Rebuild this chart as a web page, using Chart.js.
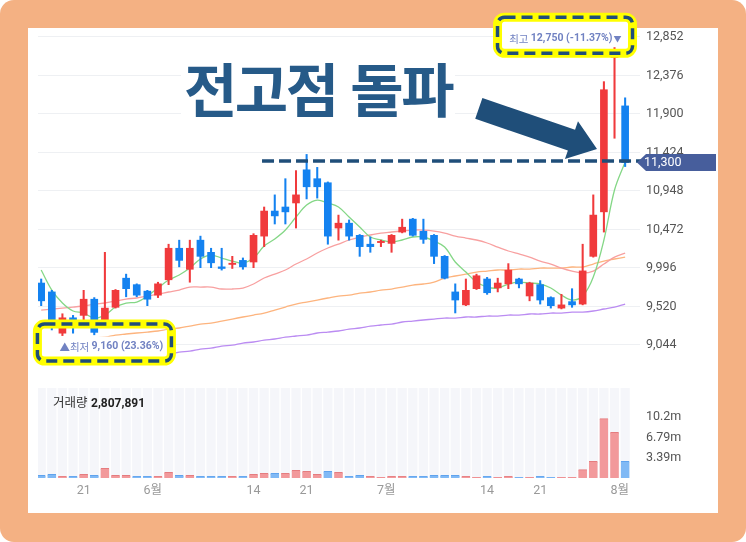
<!DOCTYPE html>
<html lang="ko">
<head>
<meta charset="utf-8">
<title>전고점 돌파</title>
<script src="https://cdn.jsdelivr.net/npm/chart.js@4.4.1/dist/chart.umd.min.js"></script>
<style>
html, body { margin: 0; padding: 0; background: #fff; }
#frame { position: absolute; left: 0; top: 0; width: 746px; height: 542px; background: #f4b183; border-radius: 14px; }
#panel { position: absolute; left: 28px; top: 28px; width: 690px; height: 485px; background: #fff; }
#chart { position: absolute; left: 0; top: 0; }
#title {
    position: absolute; left: 181px; top: 58px; padding: 0 3px;
    font-family: 'Noto Sans CJK KR', sans-serif; font-weight: 700; font-size: 58px;
    line-height: 1; letter-spacing: -2.5px; color: #265a88; background: #fff;
}
#arrow { position: absolute; left: 0; top: 0; pointer-events: none; }
#volLabel {
    position: absolute; left: 53px; top: 392px;
    font-family: 'Noto Sans CJK KR', sans-serif; font-size: 12.5px; color: #333;
}
#volLabel b { font-family: Roboto, sans-serif; font-size: 12px; color: #222; }
</style>
</head>
<body>
<div id="frame"></div>
<div id="panel"></div>
<canvas id="chart" width="746" height="542"></canvas>
<div id="title">전고점 돌파</div>
<svg id="arrow" width="746" height="542">
    <polygon points="0,0 -27,-20 -27,-11 -125,-11 -125,11 -27,11 -27,20"
             fill="#1f4e79" transform="translate(597,149) rotate(19)"/>
</svg>
<div id="volLabel">거래량 <b>2,807,891</b></div>

<script>
// daily candles, 2021-05-14 .. 2021-08-02
const dates = [
    "05-14", "05-17", "05-18", "05-20", "05-21", "05-24", "05-25", "05-26", "05-27", "05-28", "05-31",
    "06-01", "06-02", "06-03", "06-04", "06-07", "06-08", "06-09", "06-10", "06-11", "06-14", "06-15",
    "06-16", "06-17", "06-18", "06-21", "06-22", "06-23", "06-24", "06-25", "06-28", "06-29", "06-30",
    "07-01", "07-02", "07-05", "07-06", "07-07", "07-08", "07-09", "07-12", "07-13", "07-14", "07-15",
    "07-16", "07-19", "07-20", "07-21", "07-22", "07-23", "07-26", "07-27", "07-28", "07-29", "07-30",
    "08-02"
];
const opens = [
    9810, 9700, 9190, 9380, 9410, 9610, 9300, 9510, 9870, 9790, 9710,
    9660, 9850, 10240, 9980, 10340, 10190, 10010, 10040, 10090, 10070, 10390,
    10700, 10750, 10800, 11210, 11100, 11050, 10490, 10550, 10400, 10290, 10310,
    10300, 10440, 10600, 10450, 10400, 10140, 9700, 9540, 9740, 9860, 9750,
    9800, 9860, 9650, 9790, 9630, 9500, 9580, 9550, 10140, 10690, 12600,
    12000
];
const highs = [
    9860, 9720, 9430, 9410, 9720, 9630, 10190, 9730, 9920, 9800, 9720,
    9820, 10290, 10340, 10340, 10390, 10240, 10240, 10140, 10120, 10420, 10750,
    10900, 11100, 11200, 11400, 11240, 11060, 10650, 10590, 10410, 10380, 10340,
    10410, 10600, 10610, 10600, 10410, 10150, 9800, 9860, 9920, 9880, 9870,
    10050, 9870, 9820, 9840, 9640, 9670, 9740, 10290, 10900, 12300, 12750,
    12100
];
const lows = [
    9530, 9230, 9160, 9190, 9350, 9170, 9270, 9500, 9640, 9640, 9530,
    9630, 9790, 10010, 9820, 10000, 10000, 9970, 9990, 9980, 10000, 10260,
    10540, 10540, 10490, 10850, 10860, 10290, 10340, 10340, 10140, 10190, 10260,
    10190, 10430, 10390, 10300, 10050, 9860, 9440, 9530, 9730, 9670, 9700,
    9740, 9750, 9590, 9550, 9500, 9490, 9510, 9540, 10130, 10440, 11600,
    11250
];
const closes = [
    9590, 9280, 9380, 9320, 9610, 9200, 9500, 9720, 9740, 9660, 9610,
    9800, 10240, 10090, 10240, 10140, 10060, 9990, 10055, 10010, 10400, 10700,
    10640, 10690, 10900, 11000, 11000, 10390, 10550, 10390, 10260, 10260, 10325,
    10400, 10500, 10400, 10350, 10140, 9870, 9600, 9720, 9900, 9690, 9810,
    9970, 9800, 9810, 9600, 9530, 9540, 9540, 9960, 10650, 12200, 12615,
    11300
];
const volumes = [
    450000, 610000, 280000, 280000, 610000, 450000, 1620000, 450000, 450000, 280000, 280000,
    280000, 950000, 450000, 450000, 280000, 280000, 280000, 280000, 280000, 610000, 780000,
    780000, 780000, 1280000, 1120000, 610000, 1120000, 950000, 280000, 450000, 280000, 110000,
    280000, 280000, 280000, 280000, 450000, 450000, 450000, 280000, 110000, 280000, 110000,
    280000, 110000, 110000, 280000, 110000, 110000, 110000, 1400000, 2790000, 9940000, 7650000,
    2807891
];
// moving averages
const ma5 = [
    9971, 9723, 9563, 9464, 9439, 9377, 9414, 9513, 9563, 9575, 9649,
    9748, 9847, 9909, 9995, 10107, 10156, 10119, 10082, 10057, 10119, 10267,
    10354, 10465, 10626, 10774, 10836, 10799, 10750, 10626, 10503, 10379, 10342,
    10317, 10342, 10379, 10379, 10329, 10255, 10070, 9946, 9822, 9760, 9748,
    9798, 9822, 9810, 9798, 9748, 9661, 9600, 9649, 9884, 10342, 10960,
    11306
];
const ma20 = [
    9476, 9488, 9501, 9513, 9526, 9550, 9563, 9587, 9612, 9625, 9649,
    9674, 9699, 9723, 9760, 9760, 9760, 9736, 9736, 9748, 9798, 9872,
    9921, 9971, 10045, 10107, 10181, 10243, 10292, 10342, 10379, 10404, 10428,
    10441, 10453, 10465, 10465, 10453, 10428, 10391, 10366, 10342, 10305, 10255,
    10206, 10169, 10131, 10082, 10045, 9995, 9958, 9934, 9958, 10045, 10131,
    10181
];
const ma60 = [
    9068, 9081, 9093, 9105, 9118, 9130, 9142, 9167, 9180, 9192, 9204,
    9217, 9241, 9254, 9278, 9303, 9315, 9340, 9365, 9390, 9414, 9439,
    9476, 9513, 9550, 9575, 9600, 9625, 9649, 9661, 9686, 9699, 9723,
    9736, 9760, 9785, 9798, 9822, 9872, 9897, 9921, 9946, 9958, 9971,
    9971, 9983, 9983, 9995, 9995, 9995, 10008, 10008, 10045, 10082, 10107,
    10131
];
const ma120 = [
    8858, 8858, 8870, 8870, 8883, 8883, 8895, 8895, 8907, 8907, 8920,
    8920, 8932, 8957, 8969, 8994, 9006, 9031, 9043, 9068, 9081, 9105,
    9118, 9142, 9155, 9167, 9192, 9204, 9217, 9241, 9254, 9278, 9291,
    9303, 9328, 9340, 9353, 9365, 9377, 9377, 9390, 9390, 9402, 9402,
    9414, 9414, 9427, 9427, 9439, 9439, 9451, 9451, 9464, 9489, 9513,
    9550
];

const priceTicks = [9044, 9520, 9996, 10472, 10948, 11424, 11900, 12376, 12852];
const volTicks = [3395000, 6790000, 10185000];
const volTickText = ["3.39m", "6.79m", "10.2m"];
// month labels sit on the boundary between two months
const tickIdx = [4, 10.5, 20, 25, 32.5, 42, 47, 54.5];
const tickText = ["21", "6월", "14", "21", "7월", "14", "21", "8월"];

const currentPrice = 11300;
const lowIdx = 2, lowPrice = 9160;
const highIdx = 54, highPrice = 12750;

const upColor = "#f03a3c";
const downColor = "#1482f0";
const volPanelTop = 15080000;

const numFont = "Roboto, 'Noto Sans CJK KR', sans-serif";
const krFont = "'Noto Sans CJK KR', sans-serif";
Chart.defaults.font.family = numFont;

const idx = dates.map((d, i) => i);
const isUp = idx.map(i => closes[i] >= opens[i]);
// volume colour follows the close against the day before
const volUp = idx.map(i => i === 0 ? isUp[0] : closes[i] >= closes[i - 1]);

function lineSet(label, values, color) {
    return {
        type: "line",
        label: label,
        data: values.map((v, i) => ({ x: i, y: v })),
        borderColor: color,
        borderWidth: 1.3,
        pointRadius: 0,
        tension: 0.35,
        yAxisID: "y",
        order: 2
    };
}

function roundRect(ctx, x, y, w, h, r) {
    ctx.beginPath();
    ctx.moveTo(x + r, y);
    ctx.arcTo(x + w, y, x + w, y + h, r);
    ctx.arcTo(x + w, y + h, x, y + h, r);
    ctx.arcTo(x, y + h, x, y, r);
    ctx.arcTo(x, y, x + w, y, r);
    ctx.closePath();
}

function hiliteBox(ctx, x, y, w, h) {
    ctx.save();
    roundRect(ctx, x, y, w, h, 7);
    ctx.lineWidth = 9;
    ctx.strokeStyle = "#ffff00";
    ctx.stroke();
    ctx.lineWidth = 3.5;
    ctx.strokeStyle = "#1f4e79";
    ctx.setLineDash([11, 6]);
    ctx.stroke();
    ctx.restore();
}

const overlay = {
    id: "overlay",
    afterDatasetsDraw(chart) {
        const { ctx, chartArea } = chart;
        const x = chart.scales.x, y = chart.scales.y;
        const yc = y.getPixelForValue(currentPrice) - 1.5;
        ctx.save();
        ctx.strokeStyle = "#1f4e79";
        ctx.lineWidth = 3.5;
        ctx.setLineDash([12, 5]);
        ctx.beginPath();
        ctx.moveTo(x.getPixelForValue(20.8), yc);
        ctx.lineTo(chartArea.right + 4, yc);
        ctx.stroke();
        ctx.restore();
    },
    afterDraw(chart) {
        const { ctx, chartArea } = chart;
        const x = chart.scales.x, y = chart.scales.y;

        // current price tag
        const yt = y.getPixelForValue(currentPrice);
        const l = chartArea.right - 3;
        ctx.save();
        ctx.fillStyle = "#475e9c";
        ctx.beginPath();
        ctx.moveTo(l, yt);
        ctx.lineTo(l + 9, yt - 8.5);
        ctx.lineTo(716, yt - 8.5);
        ctx.lineTo(716, yt + 8.5);
        ctx.lineTo(l + 9, yt + 8.5);
        ctx.closePath();
        ctx.fill();
        ctx.fillStyle = "#fff";
        ctx.font = "12.5px " + numFont;
        ctx.textBaseline = "middle";
        ctx.fillText(currentPrice.toLocaleString("en-US"), chartArea.right + 4, yt + 0.5);
        ctx.restore();

        const txtColor = "#7182c2";

        // lowest price label
        const xl = x.getPixelForValue(lowIdx), yl = y.getPixelForValue(lowPrice);
        const lowText = lowPrice.toLocaleString("en-US") + " (23.36%)";
        ctx.save();
        ctx.fillStyle = "#fff";
        ctx.fillRect(xl - 25, yl + 1, 134, 25);
        ctx.textBaseline = "middle";
        ctx.fillStyle = txtColor;
        let tx = xl - 3;
        ctx.font = "10.5px " + krFont;
        ctx.fillText("▲최저 ", tx, yl + 11);
        tx += ctx.measureText("▲최저 ").width;
        ctx.font = "bold 10.5px " + numFont;
        ctx.fillText(lowText, tx, yl + 11);
        ctx.restore();
        hiliteBox(ctx, xl - 25, yl - 11.5, 134, 37);

        // highest price label
        const xh = x.getPixelForValue(highIdx), yh = y.getPixelForValue(highPrice);
        const highText = highPrice.toLocaleString("en-US") + " (-11.37%)";
        ctx.save();
        ctx.fillStyle = "#fff";
        ctx.fillRect(xh - 117, yh - 28, 135, 30);
        ctx.textBaseline = "middle";
        ctx.fillStyle = txtColor;
        ctx.textAlign = "right";
        let rx = xh + 7;
        ctx.font = "8px " + krFont;
        ctx.fillText("▼", rx, yh - 6);
        rx -= ctx.measureText("▼").width + 1;
        ctx.font = "bold 10.5px " + numFont;
        ctx.fillText(highText, rx, yh - 6.5);
        rx -= ctx.measureText(highText).width;
        ctx.font = "10.5px " + krFont;
        ctx.fillText("최고 ", rx, yh - 6.5);
        ctx.restore();
        hiliteBox(ctx, xh - 117, yh - 28, 135, 36);
    }
};

const ctx = document.getElementById("chart").getContext("2d");

new Chart(ctx, {
    type: "bar",
    data: {
        datasets: [
            {
                label: "캔들",
                data: idx.map(i => ({ x: i, y: [opens[i], closes[i]] })),
                backgroundColor: idx.map(i => isUp[i] ? upColor : downColor),
                barThickness: 7,
                grouped: false,
                yAxisID: "y",
                order: 0
            },
            {
                label: "고저",
                data: idx.map(i => ({ x: i, y: [lows[i], highs[i]] })),
                backgroundColor: idx.map(i => isUp[i] ? upColor : downColor),
                barThickness: 1.4,
                grouped: false,
                yAxisID: "y",
                order: 1
            },
            lineSet("5", ma5, "#84d786"),
            lineSet("20", ma20, "#f8a0a0"),
            lineSet("60", ma60, "#fdb47e"),
            lineSet("120", ma120, "#bb8cf2"),
            {
                label: "거래량",
                data: idx.map(i => ({ x: i, y: volumes[i] })),
                backgroundColor: idx.map(i => volUp[i] ? "#f2999b" : "#80b9f5"),
                borderColor: idx.map(i => volUp[i] ? "#e57c7f" : "#5fa3ee"),
                borderWidth: { top: 1, right: 0, bottom: 0, left: 0 },
                barThickness: 8.6,
                grouped: false,
                yAxisID: "yv",
                order: 3
            },
            {
                label: "배경",
                data: idx.map(i => ({ x: i, y: volPanelTop })),
                backgroundColor: "#f5f6fa",
                barThickness: 8.6,
                grouped: false,
                yAxisID: "yv",
                order: 4
            }
        ]
    },
    options: {
        responsive: false,
        animation: false,
        layout: { padding: { left: 38, top: 30, right: 28, bottom: 29 } },
        plugins: {
            legend: { display: false },
            tooltip: { enabled: false }
        },
        scales: {
            x: {
                type: "linear",
                offset: false,
                min: -0.3,
                max: 56.4,
                grid: { display: false, drawTicks: false },
                border: { display: false },
                afterBuildTicks: s => { s.ticks = tickIdx.map(v => ({ value: v })); },
                afterFit: s => { s.height = 35; },
                ticks: {
                    callback: v => tickText[tickIdx.indexOf(v)],
                    color: "#999",
                    font: { size: 12.5 },
                    padding: 5,
                    maxRotation: 0,
                    autoSkip: false
                }
            },
            y: {
                position: "right",
                stack: "right",
                stackWeight: 358,
                min: 8512.2,
                max: 12938.5,
                grid: { color: "#eef0f3", drawTicks: false },
                border: { display: false },
                afterBuildTicks: s => { s.ticks = priceTicks.map(v => ({ value: v })); },
                afterFit: s => { s.width = 78; },
                ticks: {
                    callback: v => v.toLocaleString("en-US"),
                    color: "#555",
                    font: { size: 12.5 },
                    padding: 6
                }
            },
            yv: {
                position: "right",
                stack: "right",
                stackWeight: 90,
                min: 0,
                max: volPanelTop,
                grid: { display: false, drawTicks: false },
                border: { display: false },
                afterBuildTicks: s => { s.ticks = volTicks.map(v => ({ value: v })); },
                afterFit: s => { s.width = 78; },
                ticks: {
                    callback: v => volTickText[volTicks.indexOf(v)],
                    color: "#555",
                    font: { size: 12.5 },
                    padding: 6
                }
            }
        }
    },
    plugins: [overlay]
});
</script>
</body>
</html>
